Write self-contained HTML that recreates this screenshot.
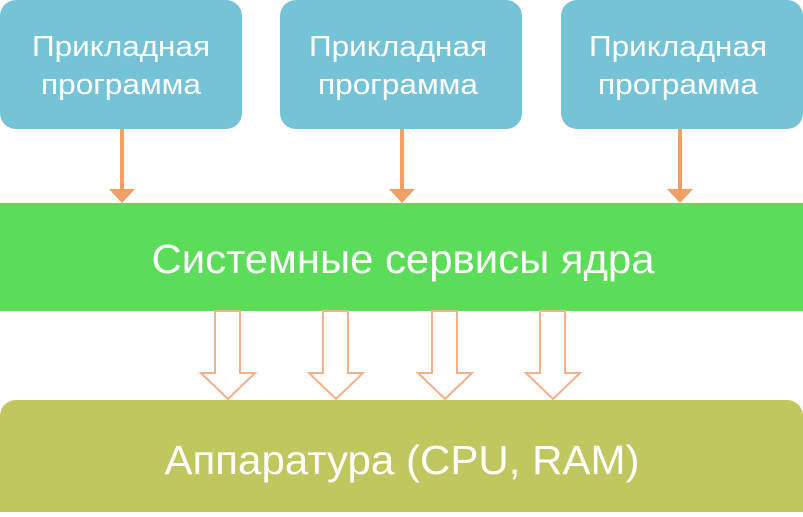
<!DOCTYPE html>
<html><head><meta charset="utf-8"><style>
body{margin:0;width:803px;height:512px;overflow:hidden;background:#fff;font-family:"Liberation Sans","DejaVu Sans",sans-serif}
</style></head><body>
<svg width="803" height="512" xmlns="http://www.w3.org/2000/svg">
<g fill="#74c3d6">
<rect x="0" y="0" width="242" height="129" rx="16"/>
<rect x="280" y="0" width="242" height="129" rx="16"/>
<rect x="561" y="0" width="242" height="129" rx="16"/>
</g>
<g fill="#fff" font-size="29" text-anchor="middle" font-family="Liberation Sans, sans-serif" lengthAdjust="spacingAndGlyphs">
<text x="121" y="56" textLength="178" lengthAdjust="spacingAndGlyphs">Прикладная</text><text x="121" y="94" textLength="160" lengthAdjust="spacingAndGlyphs">программа</text>
<text x="398" y="56" textLength="178" lengthAdjust="spacingAndGlyphs">Прикладная</text><text x="398" y="94" textLength="160" lengthAdjust="spacingAndGlyphs">программа</text>
<text x="678" y="56" textLength="178" lengthAdjust="spacingAndGlyphs">Прикладная</text><text x="678" y="94" textLength="160" lengthAdjust="spacingAndGlyphs">программа</text>
</g>
<g stroke="#f0a064" stroke-width="4">
<line x1="122" y1="129" x2="122" y2="192"/>
<line x1="402" y1="129" x2="402" y2="192"/>
<line x1="680" y1="129" x2="680" y2="192"/>
</g>
<g fill="#f0a064">
<polygon points="109,189 135,189 122,203"/>
<polygon points="389,189 415,189 402,203"/>
<polygon points="667,189 693,189 680,203"/>
</g>
<rect x="0" y="203" width="803" height="108" fill="#5cdd5a"/>
<text x="403" y="273" fill="#fff" font-size="41" text-anchor="middle" textLength="503" lengthAdjust="spacingAndGlyphs">Системные сервисы ядра</text>
<rect x="0" y="400" width="803" height="130" rx="16" fill="#bfc75e"/>
<text x="402" y="474" fill="#fff" font-size="41" text-anchor="middle" textLength="475" lengthAdjust="spacingAndGlyphs">Аппаратура (CPU, RAM)</text>
<g fill="#fff" stroke="#f4b088" stroke-width="2">
<polygon points="215,311 240,311 240,373 255,373 228,399 201,373 215,373"/>
<polygon points="323,311 348,311 348,373 363,373 336,399 309,373 323,373"/>
<polygon points="432,311 457,311 457,373 472,373 445,399 418,373 432,373"/>
<polygon points="540,311 565,311 565,373 580,373 553,399 526,373 540,373"/>
</g>
</svg>
</body></html>
